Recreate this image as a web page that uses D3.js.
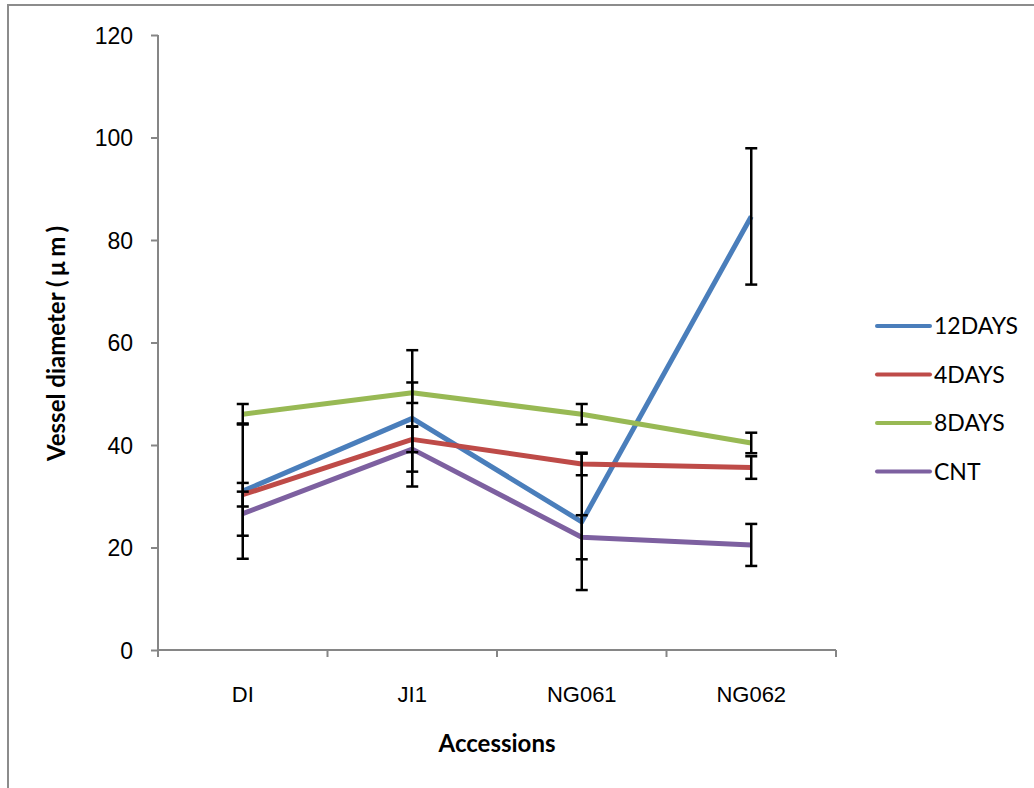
<!DOCTYPE html>
<html lang="en">
<head>
    <meta charset="UTF-8">
    <title>Vessel diameter by accession</title>
    <script src="https://d3js.org/d3.v7.min.js"></script>
    <style>
        body { margin: 0; background: #fff; font-family: "Lato", "Open Sans", sans-serif; }
        .tick text { font-size: 23px; fill: #000; }
        .xaxis .tick text { font-size: 22px; }
        .axis path, .axis line { stroke: #868686; stroke-width: 2px; }
        .title { font-size: 24px; font-weight: bold; }
        .legend text { font-size: 23px; }
    </style>
</head>
<body>
    <div id="chart"></div>
    <script>
        // data
        const accessions = ["DI", "JI1", "NG061", "NG062"];
        const seriesNames = ["12DAYS", "4DAYS", "8DAYS", "CNT"];
        const days12 = [31.0, 45.2, 25.0, 84.6];
        const days4 = [30.3, 41.1, 36.3, 35.6];
        const days8 = [46.0, 50.2, 46.0, 40.4];
        const cnt = [26.6, 39.2, 22.0, 20.5];
        const err12 = [13.2, 13.3, 13.3, 13.3];
        const err4 = [2.3, 2.5, 2.2, 2.2];
        const err8 = [2.0, 2.0, 2.0, 2.0];
        const errCnt = [4.3, 4.4, 4.3, 4.1];
        const yTicks = [0, 20, 40, 60, 80, 100, 120];

        const colors = ["#4a7ebb", "#be4b48", "#98b954", "#7d60a0"];
        const series = [
            { name: seriesNames[0], values: days12, errors: err12 },
            { name: seriesNames[1], values: days4, errors: err4 },
            { name: seriesNames[2], values: days8, errors: err8 },
            { name: seriesNames[3], values: cnt, errors: errCnt }
        ];

        const width = 1034, height = 788;
        const margin = { left: 158, right: 198, top: 35, bottom: 138 };

        const svg = d3.select("#chart").append("svg")
            .attr("width", width)
            .attr("height", height);

        // outer frame (only top and left edges visible)
        svg.append("path")
            .attr("d", "M8,788 L8,5 L1034,5")
            .attr("fill", "none")
            .attr("stroke", "#8c8c8c")
            .attr("stroke-width", 2);

        const x = d3.scaleBand()
            .domain(accessions)
            .range([margin.left, width - margin.right]);

        const y = d3.scaleLinear()
            .domain([0, 120])
            .range([height - margin.bottom, margin.top]);

        // y axis
        const yAxis = svg.append("g")
            .attr("class", "axis")
            .attr("transform", `translate(${margin.left},0)`)
            .call(d3.axisLeft(y).tickValues(yTicks).tickSize(7).tickPadding(18));
        yAxis.selectAll(".tick text").attr("dy", "0.35em");
        yAxis.select(".domain").attr("d", `M0,${y(0)}V${y(120)}`);

        // x axis with ticks on category boundaries
        const xAxis = svg.append("g")
            .attr("class", "axis xaxis")
            .attr("transform", `translate(0,${y(0)})`)
            .call(d3.axisBottom(x).tickSize(0).tickPadding(36));
        xAxis.select(".domain").attr("d", `M${x.range()[0]},0H${x.range()[1]}`);
        xAxis.selectAll(".bound")
            .data(d3.range(accessions.length + 1))
            .enter().append("line")
            .attr("x1", i => x.range()[0] + i * x.bandwidth())
            .attr("x2", i => x.range()[0] + i * x.bandwidth())
            .attr("y1", 0)
            .attr("y2", 7);

        const cx = d => x(d) + x.bandwidth() / 2;

        // lines
        const line = d3.line()
            .x((v, i) => cx(accessions[i]))
            .y(v => y(v));

        svg.selectAll(".series")
            .data(series)
            .enter().append("path")
            .attr("class", "series")
            .attr("d", s => line(s.values))
            .attr("fill", "none")
            .attr("stroke", (s, i) => colors[i])
            .attr("stroke-width", 5)
            .attr("stroke-linejoin", "round");

        // error bars
        const bars = svg.append("g")
            .attr("stroke", "#000")
            .attr("stroke-width", 2.5);
        series.forEach(s => {
            s.values.forEach((v, i) => {
                const px = cx(accessions[i]);
                const top = y(v + s.errors[i]), bot = y(v - s.errors[i]);
                bars.append("line").attr("x1", px).attr("x2", px).attr("y1", top).attr("y2", bot);
                bars.append("line").attr("x1", px - 6).attr("x2", px + 6).attr("y1", top).attr("y2", top);
                bars.append("line").attr("x1", px - 6).attr("x2", px + 6).attr("y1", bot).attr("y2", bot);
            });
        });

        // axis titles
        const yTitle = svg.append("text")
            .attr("class", "title")
            .attr("transform", "translate(65,461) rotate(-90)")
            .attr("text-anchor", "start");
        yTitle.append("tspan").text("Vessel diameter (");
        yTitle.append("tspan").style("letter-spacing", "4px").attr("dx", 4).text("µm");
        yTitle.append("tspan").text(")");

        svg.append("text")
            .attr("class", "title")
            .attr("x", (x.range()[0] + x.range()[1]) / 2)
            .attr("y", 752)
            .attr("text-anchor", "middle")
            .text("Accessions");

        // legend
        const legend = svg.append("g")
            .attr("class", "legend")
            .attr("transform", "translate(877,326)")
            .selectAll("g")
            .data(seriesNames)
            .enter().append("g")
            .attr("transform", (d, i) => `translate(0,${i * 48.5})`);

        legend.append("line")
            .attr("x1", 0).attr("x2", 53)
            .attr("stroke", (d, i) => colors[i])
            .attr("stroke-width", 4)
            .attr("stroke-linecap", "round");

        legend.append("text")
            .attr("x", 57)
            .attr("dy", "0.35em")
            .text(d => d);
    </script>
</body>
</html>
